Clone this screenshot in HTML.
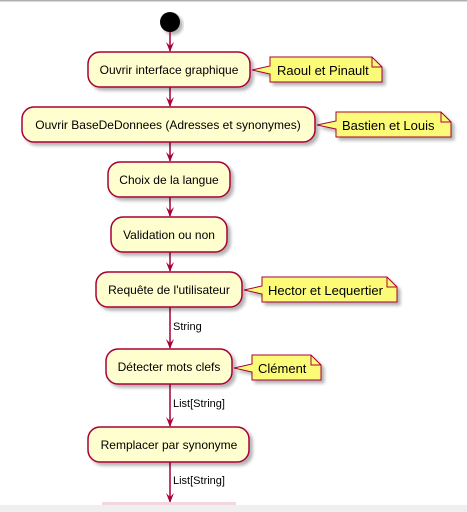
<!DOCTYPE html>
<html><head><style>
body{margin:0;background:#fff;}
svg{display:block;font-family:"Liberation Sans",sans-serif;}
</style></head><body>
<svg width="467" height="512" viewBox="0 0 467 512" xmlns="http://www.w3.org/2000/svg">
<defs>
<filter id="sh" x="-10%" y="-10%" width="130%" height="140%"><feGaussianBlur in="SourceAlpha" stdDeviation="1.5"/><feOffset dx="3" dy="3"/><feComponentTransfer><feFuncA type="linear" slope="0.3"/></feComponentTransfer><feMerge><feMergeNode/><feMergeNode in="SourceGraphic"/></feMerge></filter>
</defs>
<rect x="0" y="0" width="467" height="1.5" fill="#b0b0b0"/>
<circle cx="170" cy="22" r="10" fill="#000" filter="url(#sh)"/>
<g stroke="#A80036" stroke-width="1.5" fill="none">
<line x1="170" y1="32" x2="170" y2="51"/>
<line x1="170" y1="87" x2="170" y2="106"/>
<line x1="170" y1="142" x2="170" y2="161"/>
<line x1="170" y1="197" x2="170" y2="216"/>
<line x1="170" y1="252" x2="170" y2="271"/>
<line x1="170" y1="307" x2="170" y2="348"/>
<line x1="170" y1="384" x2="170" y2="426"/>
<line x1="170" y1="462" x2="170" y2="502"/>
</g>
<g fill="#A80036">
<polygon points="166,42 170,52 174,42 170,46"/>
<polygon points="166,97 170,107 174,97 170,101"/>
<polygon points="166,152 170,162 174,152 170,156"/>
<polygon points="166,207 170,217 174,207 170,211"/>
<polygon points="166,262 170,272 174,262 170,266"/>
<polygon points="166,339 170,349 174,339 170,343"/>
<polygon points="166,417 170,427 174,417 170,421"/>
<polygon points="166,493 170,503 174,493 170,497"/>
</g>
<g fill="#FEFECE" stroke="#A80036" stroke-width="1.5" filter="url(#sh)">
<rect x="88" y="52" width="162" height="35" rx="12"/>
<rect x="22" y="107" width="293" height="35" rx="12"/>
<rect x="108" y="162" width="122" height="35" rx="12"/>
<rect x="111" y="217" width="116" height="35" rx="12"/>
<rect x="96" y="272" width="146" height="35" rx="12"/>
<rect x="106" y="349" width="126" height="35" rx="12"/>
<rect x="88" y="427" width="161" height="35" rx="12"/>
</g>
<g fill="#FBFB77" stroke="#A80036" stroke-width="1" filter="url(#sh)">
<path d="M270,57 H372 L382,67 V82 H270 V74 L252,70 L270,66 Z"/>
<path d="M336,112 H441 L451,122 V137 H336 V129 L317,125 L336,121 Z"/>
<path d="M262,277 H387 L397,287 V302 H262 V294 L244,290 L262,286 Z"/>
<path d="M252,355 H311 L321,365 V380 H252 V372 L234,368 L252,364 Z"/>
</g>
<g fill="none" stroke="#A80036" stroke-width="1">
<path d="M372,57 V67 H382"/><path d="M441,112 V122 H451"/><path d="M387,277 V287 H397"/><path d="M311,355 V365 H321"/>
</g>
<g font-size="12" fill="#000" text-anchor="middle">
<text x="169" y="74">Ouvrir interface graphique</text>
<text x="168" y="129">Ouvrir BaseDeDonnees (Adresses et synonymes)</text>
<text x="169" y="184">Choix de la langue</text>
<text x="169" y="239">Validation ou non</text>
<text x="169" y="294">Requête de l'utilisateur</text>
<text x="169" y="371">Détecter mots clefs</text>
<text x="169" y="449">Remplacer par synonyme</text>
</g>
<g font-size="13" fill="#000">
<text x="277" y="75">Raoul et Pinault</text>
<text x="342" y="130">Bastien et Louis</text>
<text x="268" y="295">Hector et Lequertier</text>
<text x="258" y="373">Clément</text>
</g>
<g font-size="11" fill="#000">
<text x="173" y="330">String</text>
<text x="173" y="407">List[String]</text>
<text x="173" y="484">List[String]</text>
</g>
<rect x="102" y="502" width="134" height="3" fill="#f3d6de"/>
<rect x="0" y="505" width="467" height="7" fill="#efefef"/>
</svg>
</body></html>
